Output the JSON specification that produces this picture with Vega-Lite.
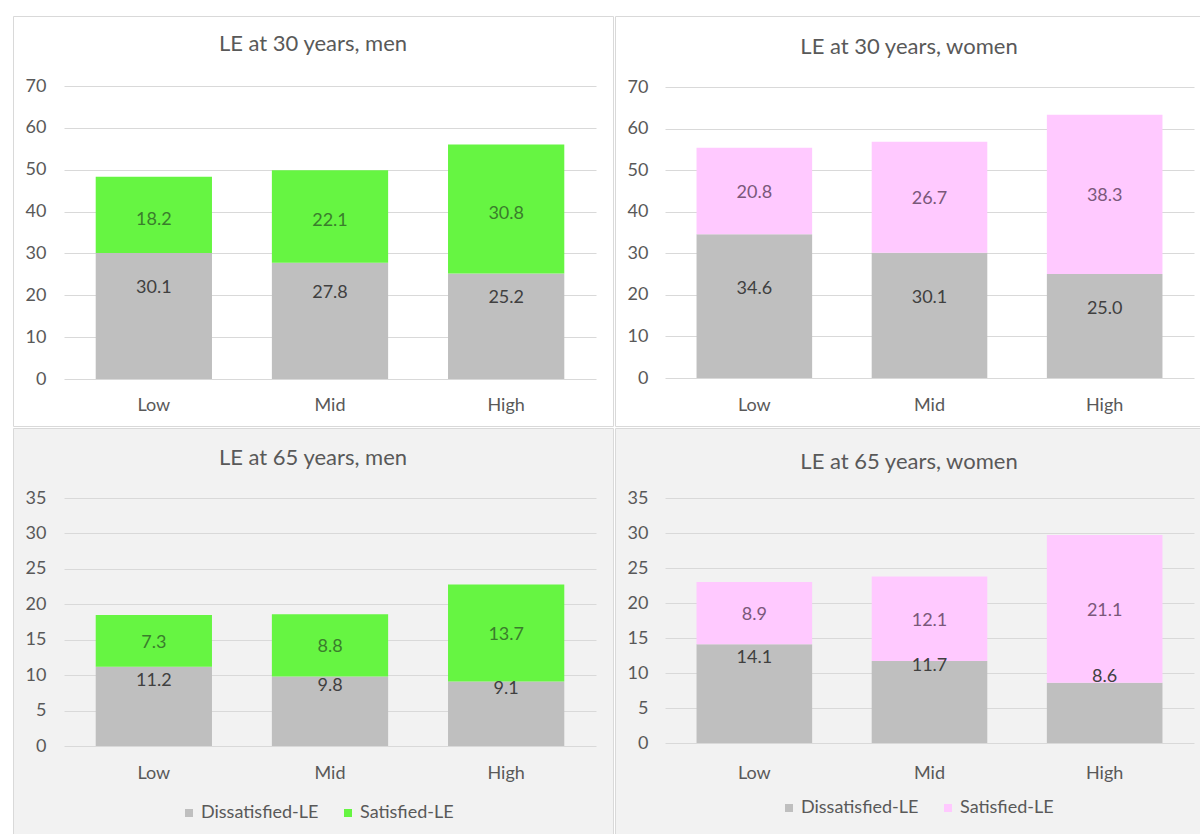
{
  "$schema": "https://vega.github.io/schema/vega-lite/v6.json",
  "background": "#ffffff",
  "padding": {"left": 12, "top": 15, "right": 0, "bottom": 0},
  "config": {
    "font": "Lato",
    "axis": {"labelFont": "Lato", "labelColor": "#595959", "labelFontSize": 18, "domain": false, "ticks": false, "title": null},
    "title": {"font": "Lato", "fontSize": 22, "fontWeight": "normal", "color": "#595959", "anchor": "middle", "frame": "group"},
    "legend": {"labelFont": "Lato", "labelFontSize": 18, "labelColor": "#595959", "symbolType": "square", "symbolSize": 64, "symbolStrokeWidth": 0, "title": null, "orient": "none", "direction": "horizontal", "columnPadding": 20, "labelOffset": 3},
    "bar": {"stroke": null},
    "text": {"font": "Lato", "fontSize": 18, "baseline": "middle", "align": "center"}
  },
  "datasets": {
    "le": [
      {"panel": "m30", "group": "Low", "type": "Dissatisfied-LE", "value": 30.1},
      {"panel": "m30", "group": "Low", "type": "Satisfied-LE", "value": 18.2},
      {"panel": "m30", "group": "Mid", "type": "Dissatisfied-LE", "value": 27.8},
      {"panel": "m30", "group": "Mid", "type": "Satisfied-LE", "value": 22.1},
      {"panel": "m30", "group": "High", "type": "Dissatisfied-LE", "value": 25.2},
      {"panel": "m30", "group": "High", "type": "Satisfied-LE", "value": 30.8},
      {"panel": "w30", "group": "Low", "type": "Dissatisfied-LE", "value": 34.6},
      {"panel": "w30", "group": "Low", "type": "Satisfied-LE", "value": 20.8},
      {"panel": "w30", "group": "Mid", "type": "Dissatisfied-LE", "value": 30.1},
      {"panel": "w30", "group": "Mid", "type": "Satisfied-LE", "value": 26.7},
      {"panel": "w30", "group": "High", "type": "Dissatisfied-LE", "value": 25.0},
      {"panel": "w30", "group": "High", "type": "Satisfied-LE", "value": 38.3},
      {"panel": "m65", "group": "Low", "type": "Dissatisfied-LE", "value": 11.2},
      {"panel": "m65", "group": "Low", "type": "Satisfied-LE", "value": 7.3},
      {"panel": "m65", "group": "Mid", "type": "Dissatisfied-LE", "value": 9.8},
      {"panel": "m65", "group": "Mid", "type": "Satisfied-LE", "value": 8.8},
      {"panel": "m65", "group": "High", "type": "Dissatisfied-LE", "value": 9.1},
      {"panel": "m65", "group": "High", "type": "Satisfied-LE", "value": 13.7},
      {"panel": "w65", "group": "Low", "type": "Dissatisfied-LE", "value": 14.1},
      {"panel": "w65", "group": "Low", "type": "Satisfied-LE", "value": 8.9},
      {"panel": "w65", "group": "Mid", "type": "Dissatisfied-LE", "value": 11.7},
      {"panel": "w65", "group": "Mid", "type": "Satisfied-LE", "value": 12.1},
      {"panel": "w65", "group": "High", "type": "Dissatisfied-LE", "value": 8.6},
      {"panel": "w65", "group": "High", "type": "Satisfied-LE", "value": 21.1}
    ]
  },
  "data": {"name": "le"},
  "spacing": 0,
  "resolve": {"scale": {"x": "independent", "y": "independent", "color": "independent"}, "legend": {"color": "independent"}, "axis": {"x": "independent", "y": "independent"}},
  "vconcat": [
    {
      "spacing": 0,
      "resolve": {"scale": {"x": "independent", "y": "independent", "color": "independent"}, "legend": {"color": "independent"}, "axis": {"x": "independent", "y": "independent"}},
      "hconcat": [
        {
          "width": 600, "height": 410,
          "view": {"fill": "#ffffff", "stroke": "#d9d9d9", "strokeWidth": 1},
          "title": {"text": "LE at 30 years, men", "offset": -40},
          "transform": [
            {"filter": "datum.panel === 'm30'"},
            {"stack": "value", "groupby": ["group"], "sort": [{"field": "type", "order": "ascending"}], "as": ["v0", "v1"]},
            {"calculate": "(datum.v0 + datum.v1) / 2", "as": "mid"}
          ],
          "encoding": {
            "x": {"field": "group", "type": "nominal", "sort": ["Low", "Mid", "High"], "scale": {"range": [51, 583], "paddingInner": 0.34, "paddingOuter": 0.18}, "axis": {"offset": -47, "labelAngle": 0, "labelBaseline": "middle", "labelPadding": 26, "grid": false}},
            "y": {"field": "v0", "type": "quantitative", "scale": {"domain": [0, 70], "range": [363, 70], "nice": false, "zero": false}, "axis": {"offset": -51, "labelPadding": 18, "values": [0, 10, 20, 30, 40, 50, 60, 70], "grid": true, "gridColor": "#d9d9d9", "gridWidth": 1.2}}
          },
          "layer": [
            {
              "mark": {"type": "bar"},
              "encoding": {
                "y2": {"field": "v1"},
                "color": {"field": "type", "type": "nominal", "scale": {"domain": ["Dissatisfied-LE", "Satisfied-LE"], "range": ["#bfbfbf", "#66f542"]}, "legend": null}
              }
            },
            {
              "transform": [{"filter": "datum.type === 'Dissatisfied-LE'"}],
              "mark": {"type": "text", "dy": -28, "color": "#404040"},
              "encoding": {"y": {"field": "mid", "type": "quantitative"}, "text": {"field": "value", "type": "quantitative", "format": ".1f"}}
            },
            {
              "transform": [{"filter": "datum.type === 'Satisfied-LE'"}],
              "mark": {"type": "text", "dy": 5, "color": "#3a7d2c"},
              "encoding": {"y": {"field": "mid", "type": "quantitative"}, "text": {"field": "value", "type": "quantitative", "format": ".1f"}}
            }
          ]
        },
        {
          "width": 588, "height": 410,
          "view": {"fill": "#ffffff", "stroke": "#d9d9d9", "strokeWidth": 1},
          "title": {"text": "LE at 30 years, women", "offset": -43},
          "transform": [
            {"filter": "datum.panel === 'w30'"},
            {"stack": "value", "groupby": ["group"], "sort": [{"field": "type", "order": "ascending"}], "as": ["v0", "v1"]},
            {"calculate": "(datum.v0 + datum.v1) / 2", "as": "mid"}
          ],
          "encoding": {
            "x": {"field": "group", "type": "nominal", "sort": ["Low", "Mid", "High"], "scale": {"range": [50, 579], "paddingInner": 0.34, "paddingOuter": 0.18}, "axis": {"offset": -48, "labelAngle": 0, "labelBaseline": "middle", "labelPadding": 27, "grid": false}},
            "y": {"field": "v0", "type": "quantitative", "scale": {"domain": [0, 70], "range": [362, 71], "nice": false, "zero": false}, "axis": {"offset": -50, "labelPadding": 17, "values": [0, 10, 20, 30, 40, 50, 60, 70], "grid": true, "gridColor": "#d9d9d9", "gridWidth": 1.2}}
          },
          "layer": [
            {
              "mark": {"type": "bar"},
              "encoding": {
                "y2": {"field": "v1"},
                "color": {"field": "type", "type": "nominal", "scale": {"domain": ["Dissatisfied-LE", "Satisfied-LE"], "range": ["#bfbfbf", "#ffc9ff"]}, "legend": null}
              }
            },
            {
              "transform": [{"filter": "datum.type === 'Dissatisfied-LE'"}],
              "mark": {"type": "text", "dy": -17, "color": "#404040"},
              "encoding": {"y": {"field": "mid", "type": "quantitative"}, "text": {"field": "value", "type": "quantitative", "format": ".1f"}}
            },
            {
              "transform": [{"filter": "datum.type === 'Satisfied-LE'"}],
              "mark": {"type": "text", "dy": 2, "color": "#7a587a"},
              "encoding": {"y": {"field": "mid", "type": "quantitative"}, "text": {"field": "value", "type": "quantitative", "format": ".1f"}}
            }
          ]
        }
      ]
    },
    {
      "spacing": 0,
      "resolve": {"scale": {"x": "independent", "y": "independent", "color": "independent"}, "legend": {"color": "independent"}, "axis": {"x": "independent", "y": "independent"}},
      "hconcat": [
        {
          "width": 600, "height": 409,
          "view": {"fill": "#f2f2f2", "stroke": "#d9d9d9", "strokeWidth": 1},
          "title": {"text": "LE at 65 years, men", "offset": -42},
          "transform": [
            {"filter": "datum.panel === 'm65'"},
            {"stack": "value", "groupby": ["group"], "sort": [{"field": "type", "order": "ascending"}], "as": ["v0", "v1"]},
            {"calculate": "(datum.v0 + datum.v1) / 2", "as": "mid"}
          ],
          "encoding": {
            "x": {"field": "group", "type": "nominal", "sort": ["Low", "Mid", "High"], "scale": {"range": [51, 583], "paddingInner": 0.34, "paddingOuter": 0.18}, "axis": {"offset": -91, "labelAngle": 0, "labelBaseline": "middle", "labelPadding": 27, "grid": false}},
            "y": {"field": "v0", "type": "quantitative", "scale": {"domain": [0, 35], "range": [318, 70], "nice": false, "zero": false}, "axis": {"offset": -51, "labelPadding": 18, "values": [0, 5, 10, 15, 20, 25, 30, 35], "grid": true, "gridColor": "#d9d9d9", "gridWidth": 1.2}}
          },
          "layer": [
            {
              "mark": {"type": "bar"},
              "encoding": {
                "y2": {"field": "v1"},
                "color": {"field": "type", "type": "nominal", "scale": {"domain": ["Dissatisfied-LE", "Satisfied-LE"], "range": ["#bfbfbf", "#66f542"]}, "legend": {"legendX": 167, "legendY": 376}}
              }
            },
            {
              "transform": [{"filter": "datum.type === 'Dissatisfied-LE'"}],
              "mark": {"type": "text", "dy": -25, "color": "#404040"},
              "encoding": {"y": {"field": "mid", "type": "quantitative"}, "text": {"field": "value", "type": "quantitative", "format": ".1f"}}
            },
            {
              "transform": [{"filter": "datum.type === 'Satisfied-LE'"}],
              "mark": {"type": "text", "dy": 2, "color": "#3a7d2c"},
              "encoding": {"y": {"field": "mid", "type": "quantitative"}, "text": {"field": "value", "type": "quantitative", "format": ".1f"}}
            }
          ]
        },
        {
          "width": 588, "height": 409,
          "view": {"fill": "#f2f2f2", "stroke": "#d9d9d9", "strokeWidth": 1},
          "title": {"text": "LE at 65 years, women", "offset": -46},
          "transform": [
            {"filter": "datum.panel === 'w65'"},
            {"stack": "value", "groupby": ["group"], "sort": [{"field": "type", "order": "ascending"}], "as": ["v0", "v1"]},
            {"calculate": "(datum.v0 + datum.v1) / 2", "as": "mid"}
          ],
          "encoding": {
            "x": {"field": "group", "type": "nominal", "sort": ["Low", "Mid", "High"], "scale": {"range": [50, 579], "paddingInner": 0.34, "paddingOuter": 0.18}, "axis": {"offset": -94, "labelAngle": 0, "labelBaseline": "middle", "labelPadding": 30, "grid": false}},
            "y": {"field": "v0", "type": "quantitative", "scale": {"domain": [0, 35], "range": [315, 70], "nice": false, "zero": false}, "axis": {"offset": -50, "labelPadding": 17, "values": [0, 5, 10, 15, 20, 25, 30, 35], "grid": true, "gridColor": "#d9d9d9", "gridWidth": 1.2}}
          },
          "layer": [
            {
              "mark": {"type": "bar"},
              "encoding": {
                "y2": {"field": "v1"},
                "color": {"field": "type", "type": "nominal", "scale": {"domain": ["Dissatisfied-LE", "Satisfied-LE"], "range": ["#bfbfbf", "#ffc9ff"]}, "legend": {"legendX": 165, "legendY": 371}}
              }
            },
            {
              "transform": [{"filter": "datum.type === 'Dissatisfied-LE'"}],
              "mark": {"type": "text", "dy": -36, "color": "#404040"},
              "encoding": {"y": {"field": "mid", "type": "quantitative"}, "text": {"field": "value", "type": "quantitative", "format": ".1f"}}
            },
            {
              "transform": [{"filter": "datum.type === 'Satisfied-LE'"}],
              "mark": {"type": "text", "dy": 2, "color": "#7a587a"},
              "encoding": {"y": {"field": "mid", "type": "quantitative"}, "text": {"field": "value", "type": "quantitative", "format": ".1f"}}
            }
          ]
        }
      ]
    }
  ]
}
